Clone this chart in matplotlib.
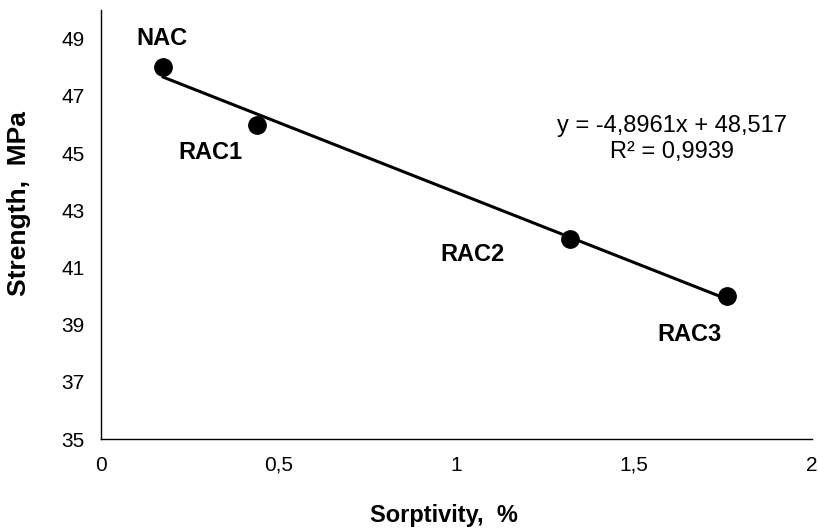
import matplotlib
matplotlib.use("Agg")

import matplotlib.pyplot as plt
import numpy as np
from matplotlib.ticker import FuncFormatter, MultipleLocator

plt.rcParams.update({
    "font.family": ["Liberation Sans", "DejaVu Sans"],
    "figure.facecolor": "white",
    "axes.facecolor": "white",
})

# mixes and measured values
mixes = ["NAC", "RAC1", "RAC2", "RAC3"]
sorptivity = [0.175, 0.44, 1.32, 1.76]
strength = [48.0, 46.0, 42.0, 40.0]

# linear trend reported for the series
slope = -4.8961
intercept = 48.517
r_squared = 0.9939

# label offsets (points) relative to each marker
label_offsets = {"NAC": (-1, 21), "RAC1": (-34, -20), "RAC2": (-70, -11), "RAC3": (-27, -28)}


def comma(v, _pos=None):
    s = f"{v:g}"
    return s.replace(".", ",")


fig = plt.figure(figsize=(8.19, 5.32), dpi=100)
ax = fig.add_axes([0.1233, 0.1748, 0.868, 0.806])

xs = np.array([min(sorptivity), max(sorptivity)])
ax.plot(xs, slope * xs + intercept, color="black", linewidth=2.2, zorder=2)
ax.plot(sorptivity, strength, "o", color="black", markersize=12.5, zorder=3)

for name, x, y in zip(mixes, sorptivity, strength):
    ax.annotate(name, (x, y), xytext=label_offsets[name], textcoords="offset points",
                ha="center", va="center", fontsize=17, fontweight="bold")

# trendline equation, two centred lines
ax.text(0.803, 0.7156, f"y = {comma(slope)}x + {comma(intercept)}",
        transform=ax.transAxes, ha="center", va="baseline", fontsize=17)
ax.text(0.803, 0.655, f"R² = {comma(r_squared)}",
        transform=ax.transAxes, ha="center", va="baseline", fontsize=17)

ax.set_xlim(0, 2)
ax.set_ylim(35, 50)
ax.xaxis.set_major_locator(MultipleLocator(0.5))
ax.set_yticks(np.arange(35, 50, 2))
ax.xaxis.set_major_formatter(FuncFormatter(comma))
ax.tick_params(axis="both", length=0, labelsize=15, pad=12)

for side in ("top", "right"):
    ax.spines[side].set_visible(False)
for side in ("left", "bottom"):
    ax.spines[side].set_linewidth(1.0)
    ax.spines[side].set_color("black")

ax.set_xlabel("Sorptivity,  %", fontsize=17, fontweight="bold")
ax.xaxis.set_label_coords(0.482, -0.152)
ax.set_ylabel("Strength,  MPa", fontsize=19, fontweight="bold")
ax.yaxis.set_label_coords(-0.098, 0.549)

fig.savefig("out.png", dpi=100)
